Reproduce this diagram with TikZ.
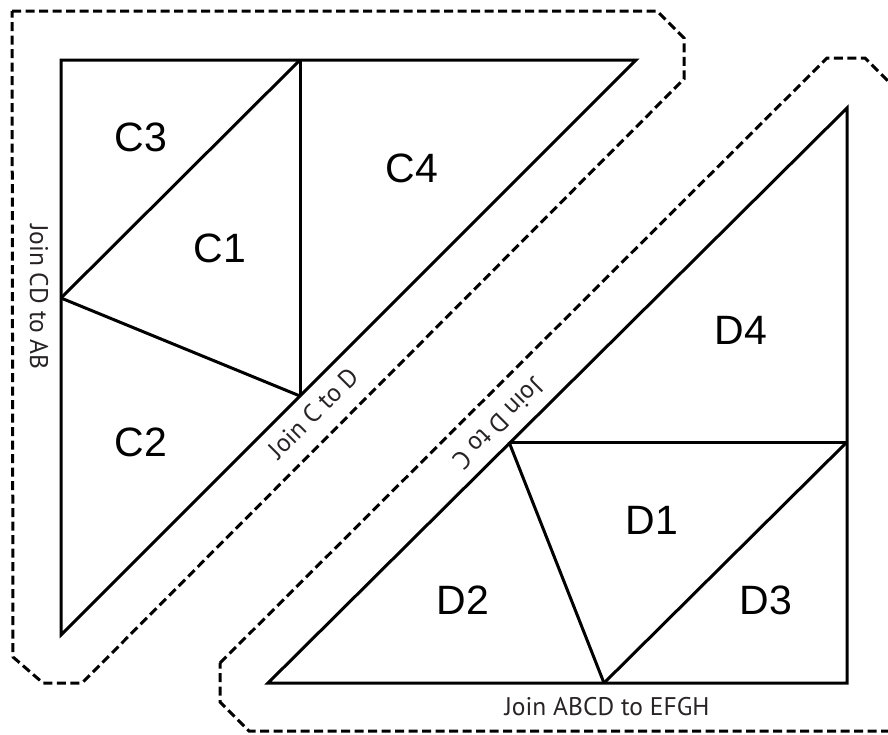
\documentclass[tikz,border=0pt]{standalone}
\usepackage{fontspec}
\setmainfont{Liberation Sans}
\newfontfamily\joinfont{PT Sans}
\definecolor{jointext}{RGB}{40,36,37}
\tikzset{
  piece/.style={draw=black, line width=3pt, line join=miter},
  cutline/.style={draw=black, line width=3pt, dash pattern=on 9pt off 4.5pt},
  lab/.style={font=\fontsize{41}{41}\selectfont, inner sep=0pt},
  joinlab/.style={font=\joinfont\fontsize{25.5}{25.5}\selectfont, text=jointext, inner sep=0pt},
}
\begin{document}
\begin{tikzpicture}[x=1pt,y=-1pt]
\useasboundingbox (0,0) rectangle (888,734);
\clip (0,0) rectangle (888,734);
% left piece coordinates
\coordinate (A1) at (61,60);
\coordinate (A2) at (300,60);
\coordinate (A3) at (636,60);
\coordinate (A4) at (61,298);
\coordinate (A5) at (300,396);
\coordinate (A6) at (61,635);
% right piece coordinates
\coordinate (B1) at (847,108);
\coordinate (B2) at (509,442);
\coordinate (B3) at (847,442);
\coordinate (B4) at (268,683);
\coordinate (B5) at (604,683);
\coordinate (B6) at (847,683);
% dashed outlines
\draw[cutline] (12,11) -- (657,11) -- (684,38) -- (684,79) -- (82,683) -- (43,683) -- (13,657) -- cycle;
\draw[cutline] (220,663) -- (827,58) -- (865,58) -- (910,103) -- (910,731) -- (249,731) -- (220,702) -- cycle;
% left pieces
\draw[piece] (A1) -- (A3) -- (A6) -- cycle;
\draw[piece] (A2) -- (A5);
\draw[piece] (A4) -- (A2);
\draw[piece] (A4) -- (A5);
% right pieces
\draw[piece] (B1) -- (B6) -- (B4) -- cycle;
\draw[piece] (B2) -- (B3);
\draw[piece] (B2) -- (B5);
\draw[piece] (B5) -- (B3);
% labels
\node[lab] (c3) at (141,137) {C3};
\node[lab] (c1) at (220,248) {C1};
\node[lab] (c4) at (412,168) {C4};
\node[lab] (c2) at (141,442) {C2};
\node[lab] (d4) at (741,330) {D4};
\node[lab] (d1) at (652,520) {D1};
\node[lab] (d2) at (463,600) {D2};
\node[lab] (d3) at (766,600) {D3};
% join labels
\node[joinlab, rotate=-90] (jcdab) at (39,297) {Join CD to AB};
\node[joinlab, rotate=45] (jcd) at (313,413) {Join C to D};
\node[joinlab, rotate=225] (jdc) at (498,424) {Join D to C};
\node[joinlab] (jabcd) at (607,707) {Join ABCD to EFGH};
\end{tikzpicture}
\end{document}
